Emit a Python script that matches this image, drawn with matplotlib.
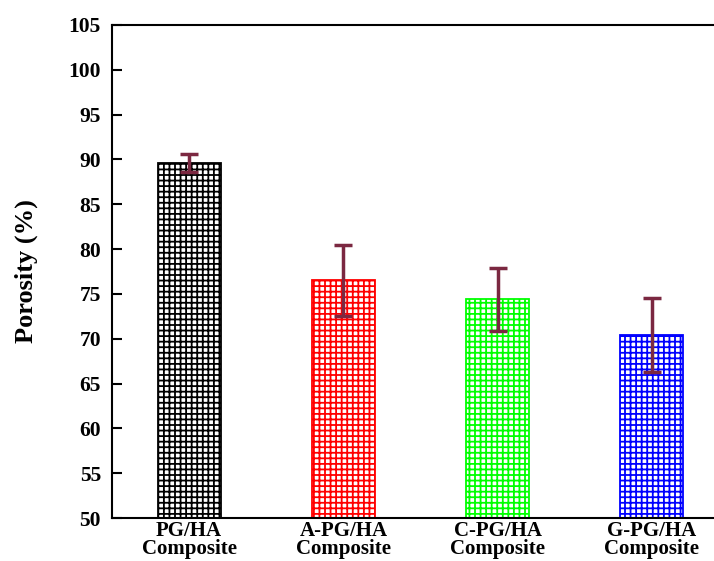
import numpy as np
import matplotlib
matplotlib.use('Agg')
import matplotlib.pyplot as plt

# --- data ---
categories = ['PG/HA\nComposite', 'A-PG/HA\nComposite', 'C-PG/HA\nComposite', 'G-PG/HA\nComposite']
porosity = [89.6, 76.5, 74.4, 70.4]
errors = [1.05, 4.0, 3.5, 4.1]
colors = ['black', 'red', '#00ff00', 'blue']

plt.rcParams['font.family'] = ['Liberation Serif', 'DejaVu Serif']
plt.rcParams['font.weight'] = 'bold'
plt.rcParams['hatch.linewidth'] = 1.3

fig = plt.figure(figsize=(7.14, 5.61), dpi=100)
# axes run off the right edge like in the original figure
ax = fig.add_axes([112 / 714, 43 / 561, 617 / 714, 493 / 561])

x = np.arange(1, len(categories) + 1)
for xi, val, c in zip(x, porosity, colors):
    ax.bar(xi, val - 50, bottom=50, width=0.41, facecolor='white',
           edgecolor=c, hatch='+++', linewidth=1.3, zorder=2)

ax.errorbar(x, porosity, yerr=errors, fmt='none', ecolor='#7b2841',
            elinewidth=2.5, capsize=6.5, capthick=2.5, zorder=3)

ax.set_xlim(0.5, 4.5)
ax.set_ylim(50, 105)
ax.set_yticks(np.arange(50, 106, 5))
ax.set_xticks(x)
ax.set_xticklabels(categories, fontsize=15, fontweight='bold', linespacing=0.88)
ax.tick_params(axis='y', direction='in', length=7, width=1.5, labelsize=15.5, pad=8)
ax.tick_params(axis='x', direction='in', length=5, width=1.5, pad=2)
for lbl in ax.get_yticklabels():
    lbl.set_fontweight('bold')

ax.spines['right'].set_visible(False)
for s in ['left', 'top', 'bottom']:
    ax.spines[s].set_linewidth(1.5)

ax.set_ylabel('Porosity (%)', fontsize=19, fontweight='bold', labelpad=22)

plt.savefig('out.png', dpi=100)
